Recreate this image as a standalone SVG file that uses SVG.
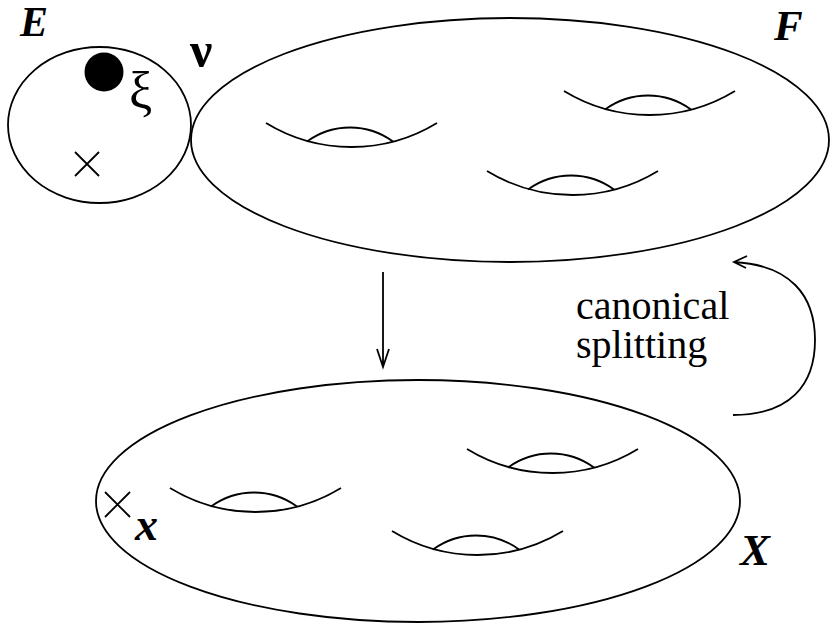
<svg xmlns="http://www.w3.org/2000/svg" width="832" height="627" viewBox="0 0 832 627">
<style>
.ln{fill:none;stroke:#000;stroke-width:1.8}
.lbl{font-family:"Liberation Serif",serif;font-weight:bold;font-style:italic;fill:#000}
.txt{font-family:"Liberation Serif",serif;fill:#000}
</style>
<defs>
<g id="handle">
<path class="ln" d="M0,0 A164.3,164.3 0 0 0 171,0"/>
<path class="ln" d="M41,18.5 A73,73 0 0 1 127,18.5"/>
</g>
</defs>
<rect width="832" height="627" fill="#fff"/>
<g id="E">
<ellipse class="ln" cx="99.5" cy="125" rx="91.5" ry="78"/>
<circle cx="104" cy="72" r="19.5" fill="#000"/>
<path class="ln" d="M75,152 L99,176 M99,152 L75,176"/>
<text class="lbl" x="20" y="36" font-size="42">E</text>
<text class="txt" x="129" y="108" font-size="52">ξ</text>
<text class="txt" x="190" y="67" font-size="50" font-weight="bold">ν</text>
</g>
<g id="F">
<ellipse class="ln" cx="510" cy="140" rx="319" ry="122"/>
<use href="#handle" x="266" y="123"/>
<use href="#handle" x="487" y="171"/>
<use href="#handle" x="564" y="91"/>
<text class="lbl" x="774" y="40" font-size="43">F</text>
</g>
<g id="X">
<ellipse class="ln" cx="418" cy="501" rx="322" ry="121"/>
<use href="#handle" x="170" y="488"/>
<use href="#handle" x="467" y="449"/>
<use href="#handle" x="392" y="531"/>
<path class="ln" d="M105,492 L130,517 M130,492 L105,517"/>
<text class="lbl" x="135" y="540" font-size="46">x</text>
<text class="lbl" x="740" y="565" font-size="45">X</text>
</g>
<g id="connectors">
<path class="ln" d="M383,272 L383,367 M377,349 L383,367 L389,349"/>
<path class="ln" d="M733,415 C790,415 815,385 815,340 C815,295 790,265 734,262 M747,256 L734,262 L746,268"/>
</g>
<g id="label">
<text class="txt" x="576" y="319" font-size="40">canonical</text>
<text class="txt" x="576" y="358" font-size="40">splitting</text>
</g>
</svg>
